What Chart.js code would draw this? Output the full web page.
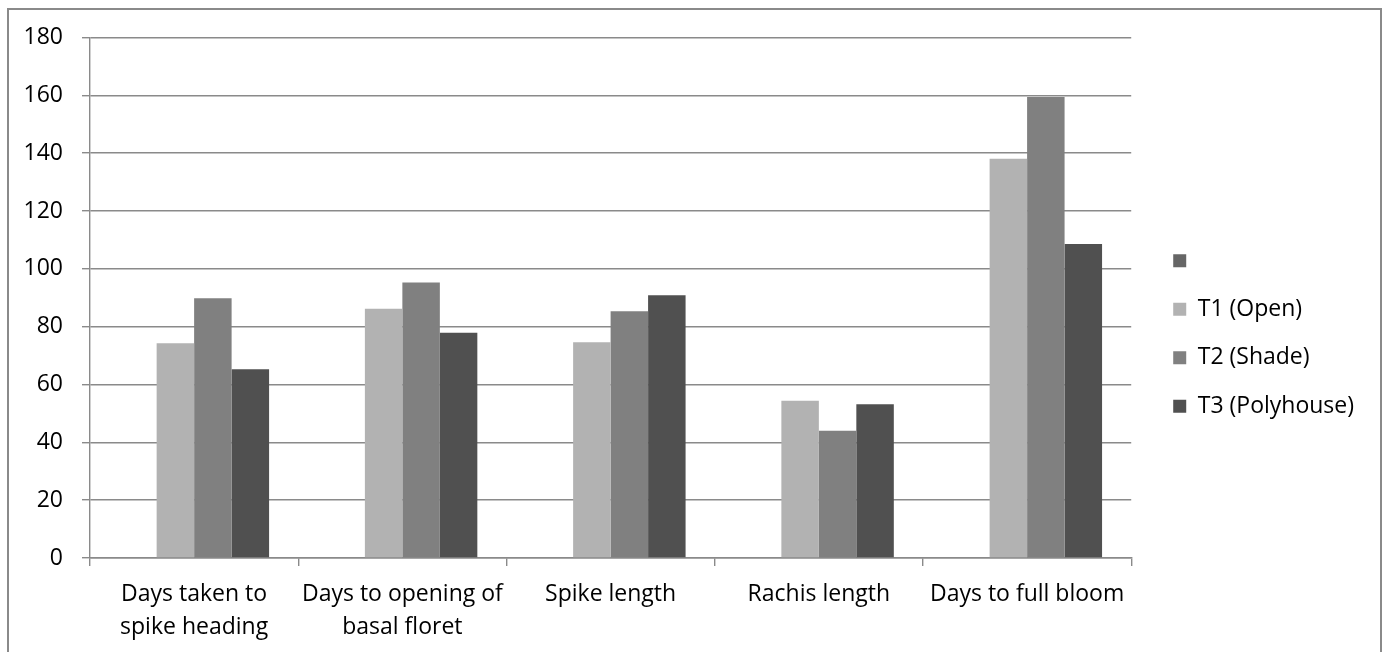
<!DOCTYPE html>
<html>
<head>
<meta charset="utf-8">
<script src="https://cdn.jsdelivr.net/npm/chart.js@4"></script>
<style>
  html, body { margin: 0; padding: 0; background: #fff; }
  #frame {
    position: absolute; left: 7px; top: 8px; width: 1375px; height: 700px;
    box-sizing: border-box; border: 2px solid #8a8a8a; border-bottom: none;
  }
  #chart { position: absolute; left: 0; top: 0; }
</style>
</head>
<body>
<div id="frame"></div>
<canvas id="chart" width="1388" height="652"></canvas>
<script>
// values
var categories = [
  ["Days taken to", "spike heading"],
  ["Days to opening of", "basal floret"],
  "Spike length",
  "Rachis length",
  "Days to full bloom"
]
var blankSeries = [null, null, null, null, null]
var t1Open = [74.3, 86.2, 74.6, 54.4, 138.1]
var t2Shade = [89.8, 95.3, 85.3, 44.0, 159.4]
var t3Polyhouse = [65.3, 77.9, 90.9, 53.2, 108.6]

var gridColor = "#8a8a8a"
var fontFamily = "'Open Sans', sans-serif"
var fontSize = 23

var ctx = document.getElementById("chart").getContext("2d")
var chart = new Chart(ctx, {
  type: "bar",
  data: {
    labels: categories,
    datasets: [
      { label: "", data: blankSeries, backgroundColor: "#666666" },
      { label: "T1 (Open)", data: t1Open, backgroundColor: "#b2b2b2" },
      { label: "T2 (Shade)", data: t2Shade, backgroundColor: "#808080" },
      { label: "T3 (Polyhouse)", data: t3Polyhouse, backgroundColor: "#505050" }
    ]
  },
  options: {
    responsive: false,
    devicePixelRatio: 1,
    animation: false,
    categoryPercentage: 0.72,
    barPercentage: 1.0,
    layout: { padding: { top: 37.5, left: 0, right: 24, bottom: 0 } },
    plugins: {
      tooltip: { enabled: false },
      legend: {
        position: "right",
        fullSize: false,
        // empty title only used as a spacer to push the items down
        title: { display: true, text: "", padding: 0, font: { size: 10, lineHeight: 7.14 } },
        labels: {
          boxWidth: 13,
          boxHeight: 13,
          padding: 25.5,
          color: "#000",
          font: { family: fontFamily, size: fontSize }
        }
      }
    },
    scales: {
      x: {
        afterFit: function(s){ s.height = 94 },
        grid: { drawOnChartArea: false, drawTicks: true, tickLength: 8, color: gridColor, lineWidth: 1.4 },
        border: { color: gridColor, width: 1.4 },
        ticks: { color: "#000", padding: 12, maxRotation: 0, autoSkip: false,
                 font: { family: fontFamily, size: fontSize, lineHeight: 1.42 } }
      },
      y: {
        min: 0,
        max: 180,
        afterFit: function(s){ s.width = 90 },
        grid: { color: gridColor, lineWidth: 1.4, tickLength: 8 },
        border: { color: gridColor, width: 1.4 },
        ticks: { stepSize: 20, color: "#000", padding: 19,
                 font: { family: fontFamily, size: fontSize } }
      },
      gap: {
        type: "linear",
        position: "right",
        display: true,
        afterFit: function(s){ s.width = 16.5 },
        grid: { display: false },
        border: { display: false },
        ticks: { display: false }
      }
    }
  }
})
</script>
</body>
</html>
